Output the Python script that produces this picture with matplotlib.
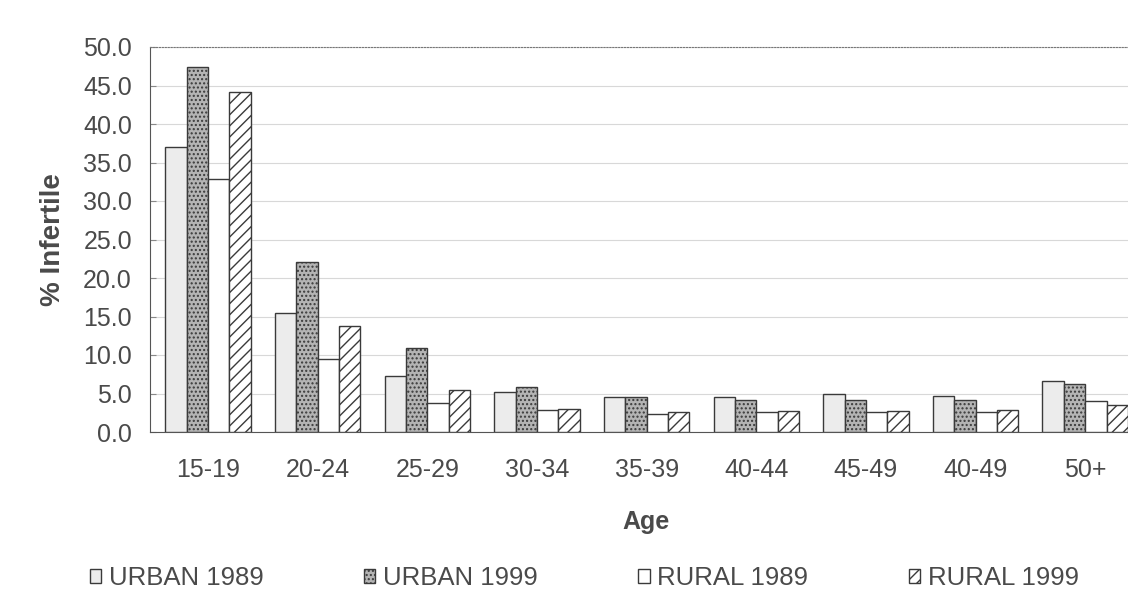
import matplotlib
matplotlib.use('Agg')
import matplotlib.pyplot as plt
import matplotlib.patches as mpatches
import numpy as np

plt.rcParams['font.family'] = ['Liberation Sans', 'DejaVu Sans']
plt.rcParams['hatch.linewidth'] = 1.0

ages = ['15-19', '20-24', '25-29', '30-34', '35-39', '40-44', '45-49', '40-49', '50+']
urban_1989 = [37.0, 15.5, 7.3, 5.2, 4.5, 4.5, 5.0, 4.7, 6.6]
urban_1999 = [47.4, 22.1, 10.9, 5.9, 4.5, 4.2, 4.2, 4.2, 6.2]
rural_1989 = [32.9, 9.5, 3.8, 2.9, 2.3, 2.6, 2.6, 2.6, 4.0]
rural_1999 = [44.2, 13.8, 5.4, 3.0, 2.6, 2.7, 2.7, 2.8, 3.5]

series = [
    ('URBAN 1989', urban_1989, '#ececec', None),
    ('URBAN 1999', urban_1999, '#b4b4b4', '....'),
    ('RURAL 1989', rural_1989, 'white', None),
    ('RURAL 1999', rural_1999, 'white', '///'),
]

edge = '#3a3a3a'
text_c = '#4a4a4a'

fig = plt.figure(figsize=(11.28, 6.04), dpi=100)
ax = fig.add_axes([150 / 1128, 1 - 432 / 604, 990 / 1128, 385 / 604])

x = np.arange(len(ages))
w = 0.195
for i, (name, vals, fc, hatch) in enumerate(series):
    ax.bar(x + (i - 1.5) * w, vals, width=w, facecolor=fc, edgecolor=edge,
           hatch=hatch, linewidth=1.0, zorder=3)

ax.set_xlim(-0.53, 8.5)
ax.set_ylim(0, 50)
ax.set_yticks(np.arange(0, 50.1, 5))
ax.set_yticklabels([f'{v:.1f}' for v in np.arange(0, 50.1, 5)])
ax.set_xticks(x)
ax.set_xticklabels(ages)
ax.yaxis.grid(True, color='#d8d8d8', linewidth=0.8, zorder=0)
ax.tick_params(axis='x', labelsize=18, colors=text_c, length=0, pad=19)
ax.tick_params(axis='y', labelsize=18, colors=text_c, length=4, pad=13,
               color='#888888', direction='in')
ax.spines['right'].set_visible(False)
ax.spines['top'].set_linestyle(':')
ax.spines['top'].set_color('#777777')
ax.spines['left'].set_color('#555555')
ax.spines['bottom'].set_color('#555555')

ax.set_ylabel('% Infertile', fontsize=20, fontweight='bold', color=text_c)
ax.set_xlabel('Age', fontsize=18, fontweight='bold', color=text_c)
ax.yaxis.set_label_coords(-0.085, 0.5)
ax.xaxis.set_label_coords(0.501, -0.203)

handles = [mpatches.Patch(facecolor=fc, edgecolor=edge, hatch=h, label=n)
           for n, _, fc, h in series]
fig.legend(handles=handles, loc='center', bbox_to_anchor=(0.518, 1 - 578 / 604),
           ncol=4, frameon=False, fontsize=18.5, handlelength=0.45, handleheight=0.45,
           handletextpad=0.3, columnspacing=3.9, labelcolor=text_c,
           borderpad=0, borderaxespad=0)

fig.savefig('out.png', dpi=100)
